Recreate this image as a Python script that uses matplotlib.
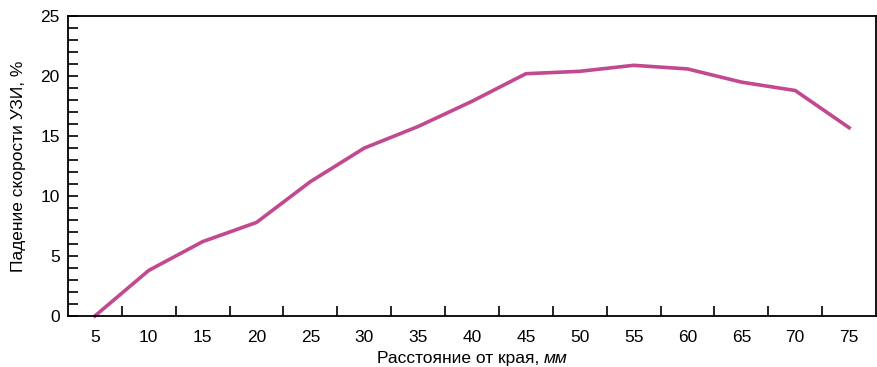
import matplotlib
matplotlib.use("Agg")
import matplotlib.pyplot as plt
from matplotlib.offsetbox import TextArea, HPacker, AnnotationBbox
from matplotlib.ticker import MultipleLocator, FixedLocator

distance_mm = [5, 10, 15, 20, 25, 30, 35, 40, 45, 50, 55, 60, 65, 70, 75]
speed_drop_pct = [0.0, 3.8, 6.2, 7.8, 11.2, 14.0, 15.8, 17.9, 20.2, 20.4, 20.9, 20.6, 19.5, 18.8, 15.7]

FONT = ["Liberation Sans Narrow", "Liberation Sans", "DejaVu Sans"]
plt.rcParams["font.family"] = FONT

fig = plt.figure(figsize=(8.77, 3.67), dpi=100)
ax = fig.add_axes([0.0775, 0.139, 0.9214, 0.817])

pos = list(range(len(distance_mm)))
ax.plot(pos, speed_drop_pct, color="#C2488F", lw=2.6, solid_joinstyle="miter", clip_on=False)

ax.set_xlim(-0.5, len(distance_mm) - 0.5)
ax.set_ylim(0, 25)

# category labels at centres, tick marks on the boundaries between categories
ax.xaxis.set_major_locator(FixedLocator(pos))
ax.set_xticklabels([str(d) for d in distance_mm])
ax.xaxis.set_minor_locator(FixedLocator([p + 0.5 for p in pos[:-1]]))
ax.tick_params(axis="x", which="major", length=0, pad=10, labelsize=12.5)
ax.tick_params(axis="x", which="minor", direction="in", length=7, width=1.2)

ax.yaxis.set_major_locator(MultipleLocator(5))
ax.yaxis.set_minor_locator(MultipleLocator(1))
ax.tick_params(axis="y", which="both", direction="in", length=7, width=1.2, labelsize=12.5, pad=6)

for s in ax.spines.values():
    s.set_linewidth(1.3)
    s.set_color("black")

ax.set_ylabel("Падение скорости УЗИ, %", fontsize=12.5, labelpad=10)

# x-axis title with the unit in italics
t1 = TextArea("Расстояние от края, ", textprops=dict(fontsize=12.5, family=FONT))
t2 = TextArea("мм", textprops=dict(fontsize=12.5, family=FONT, style="italic"))
box = HPacker(children=[t1, t2], align="baseline", pad=0, sep=0)
ab = AnnotationBbox(box, (0.5, 0), xycoords="axes fraction", xybox=(0, -25.5),
                    boxcoords="offset points", frameon=False, box_alignment=(0.5, 1.0),
                    annotation_clip=False)
ax.add_artist(ab)

fig.savefig("out.png", dpi=100)
